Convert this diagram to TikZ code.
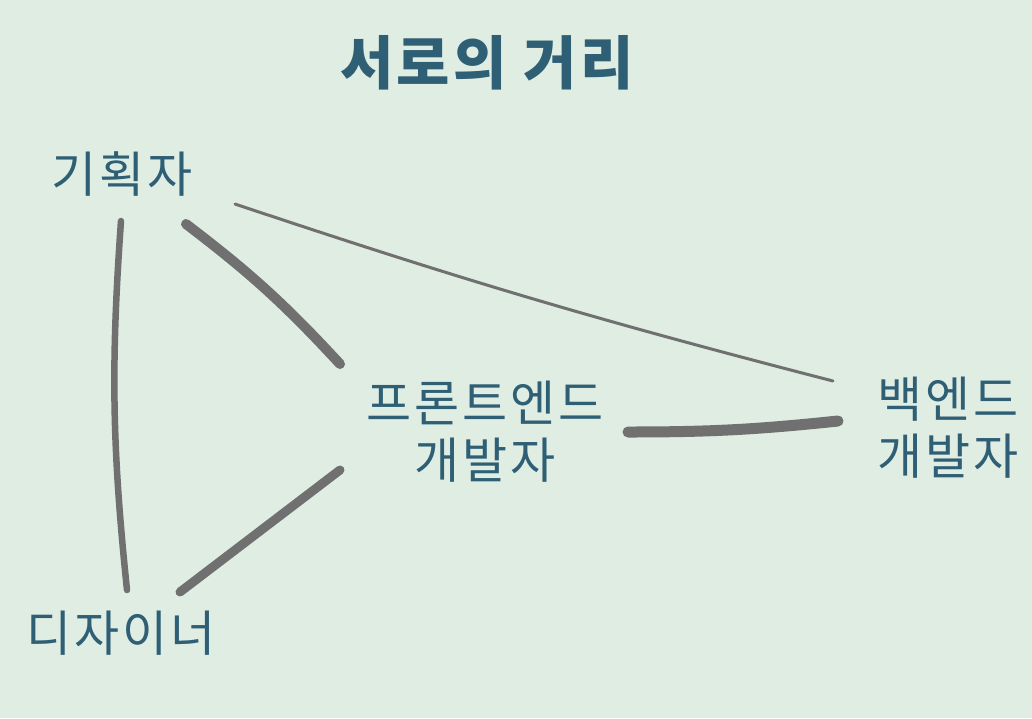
\documentclass[tikz,border=0pt]{standalone}
\usepackage{fontspec}
\setmainfont{Noto Sans CJK KR}[LetterSpace=6]
\definecolor{bg}{RGB}{223,237,227}
\definecolor{ink}{RGB}{47,95,117}
\definecolor{brush}{RGB}{112,112,112}
\tikzset{
  who/.style={text=ink, font=\fontsize{49}{57}\selectfont, align=center, inner sep=0pt},
  stroke/.style={draw=brush, line cap=round},
}

\begin{document}
\begin{tikzpicture}[x=1pt, y=-1pt]
\fill[bg] (0,0) rectangle (1032,718);
\useasboundingbox (0,0) rectangle (1032,718);
\node[text=ink, font=\fontsize{58}{60}\selectfont\bfseries, inner sep=0pt] (title) at (487,63) {서로의 거리};
\node[who] (gh) at (122,174) {기획자};
\node[who] (fe) at (485,432) {프론트엔드\\개발자};
\node[who] (be) at (948,428) {백엔드\\개발자};
\node[who] (dz) at (121,633) {디자이너};
\draw[stroke, line width=6.5] ([shift={(-1,47)}]gh.center) to[bend right=5] ([shift={(6,-43)}]dz.center);
\draw[stroke, line width=10] ([shift={(64,50)}]gh.center) to[bend left=5] ([shift={(-145,-68)}]fe.center);
\draw[stroke, line width=3] ([shift={(113,30)}]gh.center) to[bend right=2] ([shift={(-115,-47)}]be.center);
\draw[stroke, line width=9] ([shift={(59,-41)}]dz.center) -- ([shift={(-145,38)}]fe.center);
\draw[stroke, line width=11] ([shift={(143,0)}]fe.center) to[bend right=3] ([shift={(-110,-7)}]be.center);
\end{tikzpicture}
\end{document}
